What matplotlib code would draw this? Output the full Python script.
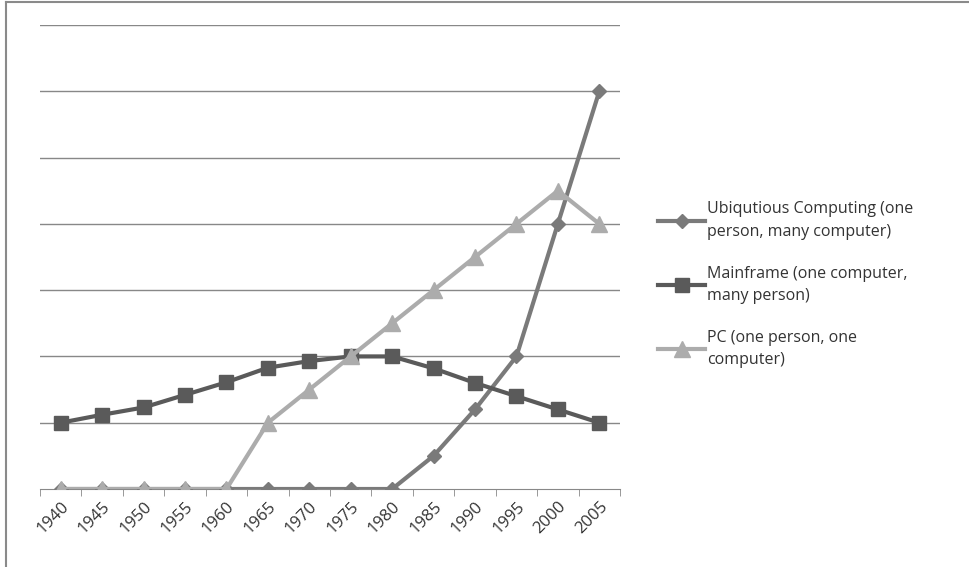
import matplotlib.pyplot as plt
from matplotlib.lines import Line2D

years = ['1940', '1945', '1950', '1955', '1960', '1965', '1970',
         '1975', '1980', '1985', '1990', '1995', '2000', '2005']
ubiquitous = [0, 0, 0, 0, 0, 0, 0, 0, 0, 0.5, 1.2, 2, 4, 6]
mainframe = [1, 1.12, 1.23, 1.42, 1.61, 1.83, 1.93, 2, 2, 1.82, 1.6, 1.4, 1.2, 1]
pc = [0, 0, 0, 0, 0, 1, 1.5, 2, 2.5, 3, 3.5, 4, 4.5, 4]

labels = ['Ubiqutious Computing (one\nperson, many computer)',
          'Mainframe (one computer,\nmany person)',
          'PC (one person, one\ncomputer)']

plt.rcParams['font.family'] = ['Open Sans', 'DejaVu Sans']

fig = plt.figure(figsize=(9.69, 5.67), dpi=100)
ax = fig.add_axes([40 / 969, 1 - 489 / 567, 580 / 969, 464 / 567])

x = list(range(len(years)))
ax.plot(x, ubiquitous, color='#7a7a7a', lw=3, marker='D', ms=7, label=labels[0], zorder=3)
ax.plot(x, mainframe, color='#5a5a5a', lw=3, marker='s', ms=10, label=labels[1], zorder=3)
ax.plot(x, pc, color='#acacac', lw=3, marker='^', ms=11, label=labels[2], zorder=4)

ax.set_xlim(-0.5, len(years) - 0.5)
ax.set_ylim(0, 7)
ax.set_yticks(range(1, 8))
ax.yaxis.grid(True, color='#888888', lw=1)
ax.set_axisbelow(True)
ax.tick_params(axis='y', left=False, labelleft=False)

ax.set_xticks(x)
ax.set_xticklabels(years, rotation=45, ha='right', rotation_mode='anchor',
                   fontsize=12, color='#333333')
ax.tick_params(axis='x', which='major', length=0, pad=7)
ax.set_xticks([i - 0.5 for i in range(len(years) + 1)], minor=True)
ax.tick_params(axis='x', which='minor', length=5, color='#888888')

for s in ['left', 'right', 'top']:
    ax.spines[s].set_visible(False)
ax.spines['bottom'].set_color('#888888')

leg = ax.legend(loc='center left', bbox_to_anchor=(1.04, 0.44), frameon=False,
                fontsize=11.5, handlelength=3.0, labelspacing=1.6,
                handletextpad=0.1, labelcolor='#333333')
for t in leg.get_texts():
    t.set_linespacing(1.55)

fig.add_artist(Line2D([6 / 969, 6 / 969], [0, 1 - 2 / 567], color='#8a8a8a', lw=1.5))
fig.add_artist(Line2D([6 / 969, 1], [1 - 2 / 567, 1 - 2 / 567], color='#8a8a8a', lw=1.5))

fig.savefig('out.png', dpi=100)
